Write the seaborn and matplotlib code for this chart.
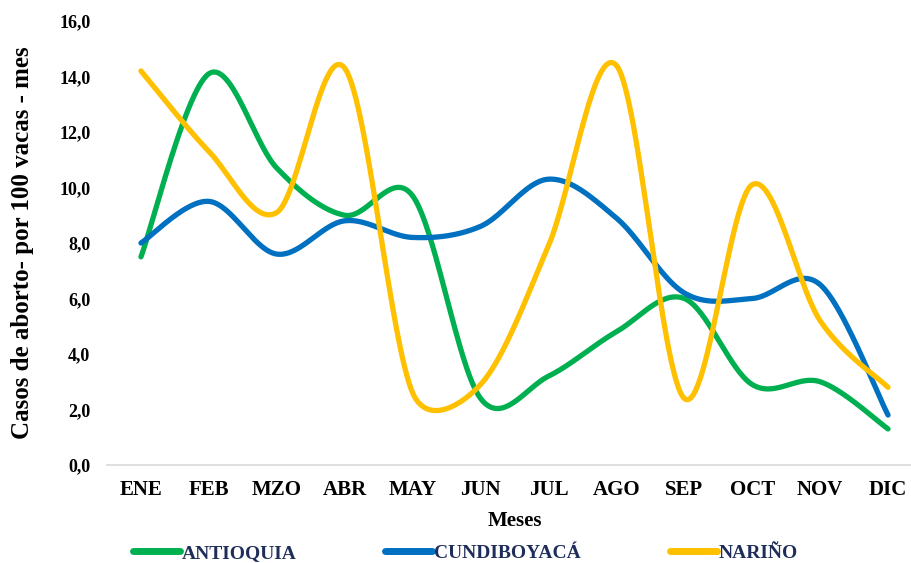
import numpy as np
import pandas as pd
import matplotlib
matplotlib.use("Agg")
import matplotlib.pyplot as plt
from matplotlib.lines import Line2D
from matplotlib.ticker import FuncFormatter
import seaborn as sns

# Monthly abortion cases per 100 cows, by region
meses = ["ENE", "FEB", "MZO", "ABR", "MAY", "JUN", "JUL", "AGO", "SEP", "OCT", "NOV", "DIC"]
antioquia = [7.5, 14.1, 10.7, 9.0, 9.7, 2.4, 3.2, 4.8, 6.0, 2.9, 3.0, 1.3]
cundiboyaca = [8.0, 9.5, 7.6, 8.8, 8.2, 8.6, 10.3, 8.9, 6.2, 6.0, 6.5, 1.8]
narino = [14.2, 11.3, 9.1, 14.3, 2.6, 2.9, 7.9, 14.4, 2.4, 10.1, 5.2, 2.8]
series_names = ["ANTIOQUIA", "CUNDIBOYACÁ", "NARIÑO"]
colores = ["#00B050", "#0070C0", "#FFC000"]

W, H = 911, 563
AX_L, AX_R, AX_T, AX_B = 107, 922, 21, 465
YMAX = 16
SX = (AX_R - AX_L) / len(meses)      # px per category
SY = (AX_B - AX_T) / YMAX            # px per unit


def smooth_curve(values, n=60):
    """Bezier smoothing in screen space (spreadsheet-style smoothed line)."""
    P = np.column_stack([np.arange(len(values)) * SX, np.asarray(values) * SY])
    xs, ys = [], []
    for i in range(len(P) - 1):
        p0 = P[i - 1] if i > 0 else P[i]
        p1, p2 = P[i], P[i + 1]
        p3 = P[i + 2] if i + 2 < len(P) else P[i + 1]
        d02 = np.linalg.norm(p2 - p0)
        d12 = np.linalg.norm(p2 - p1)
        d13 = np.linalg.norm(p3 - p1)
        f1 = f2 = 1 / 6
        if d02 > 0 and d02 / 6 >= d12 / 2:
            f1 = d12 / d02 / 2
        if d13 > 0 and d13 / 6 >= d12 / 2:
            f2 = d12 / d13 / 2
        b1 = p1 + (p2 - p0) * f1
        b2 = p2 - (p3 - p1) * f2
        t = np.linspace(0, 1, n)[:, None]
        c = (1 - t) ** 3 * p1 + 3 * (1 - t) ** 2 * t * b1 + 3 * (1 - t) * t ** 2 * b2 + t ** 3 * p2
        if i > 0:
            c = c[1:]
        xs.append(c[:, 0] / SX)
        ys.append(c[:, 1] / SY)
    return np.concatenate(xs), np.concatenate(ys)


frames = []
for name, vals in zip(series_names, [antioquia, cundiboyaca, narino]):
    cx, cy = smooth_curve(vals)
    frames.append(pd.DataFrame({"serie": name, "x": cx, "y": cy}))
df = pd.concat(frames, ignore_index=True)

sns.set_theme(style="white")
plt.rcParams["font.family"] = ["Liberation Serif", "DejaVu Serif"]
plt.rcParams["font.weight"] = "bold"

fig = plt.figure(figsize=(W / 100, H / 100), dpi=100)
ax = fig.add_axes([AX_L / W, (H - AX_B) / H, (AX_R - AX_L) / W, (AX_B - AX_T) / H])

sns.lineplot(data=df, x="x", y="y", hue="serie", hue_order=series_names,
             palette=colores, sort=False, estimator=None, linewidth=3.8,
             legend=False, ax=ax)
for ln in ax.lines:
    ln.set_solid_capstyle("round")
    ln.set_solid_joinstyle("round")

ax.set_xlim(-0.5, len(meses) - 0.5)
ax.set_ylim(0, YMAX)
ax.set_xticks(range(len(meses)))
ax.set_xticklabels(meses, fontsize=15, fontweight="bold", color="black")
ax.set_yticks(np.arange(0, YMAX + 0.1, 2))
ax.yaxis.set_major_formatter(FuncFormatter(lambda v, p: f"{v:.1f}".replace(".", ",")))
for lab in ax.get_yticklabels():
    lab.set_fontsize(13)
    lab.set_fontweight("bold")
    lab.set_color("black")
ax.tick_params(axis="both", length=0)
ax.tick_params(axis="y", pad=12)
ax.tick_params(axis="x", pad=11)

for side in ["top", "right", "left"]:
    ax.spines[side].set_visible(False)
ax.spines["bottom"].set_color("#D9D9D9")
ax.spines["bottom"].set_linewidth(1.2)
ax.grid(False)

ax.set_xlabel("Meses", fontsize=15, fontweight="bold", color="black")
ax.xaxis.set_label_coords(0.5, -(511 - AX_B) / (AX_B - AX_T))
ax.set_ylabel("Casos de aborto- por 100 vacas - mes", fontsize=18,
              fontweight="bold", color="black")
ax.yaxis.set_label_coords(-(AX_L - 34) / (AX_R - AX_L), 0.5)

# Legend entries spread along the bottom
legend_x = [133, 385, 670]
for name, col, lx in zip(series_names, colores, legend_x):
    h = Line2D([], [], color=col, linewidth=5, solid_capstyle="round")
    leg = fig.legend([h], [name], loc="center left",
                     bbox_to_anchor=(lx / W, 1 - 553 / H), frameon=False,
                     handlelength=2.4, handletextpad=0.1, borderpad=0,
                     borderaxespad=0,
                     prop={"family": "Liberation Serif", "weight": "bold", "size": 14})
    for t in leg.get_texts():
        t.set_color("#1F2D5A")

fig.savefig("out.png", dpi=100)
